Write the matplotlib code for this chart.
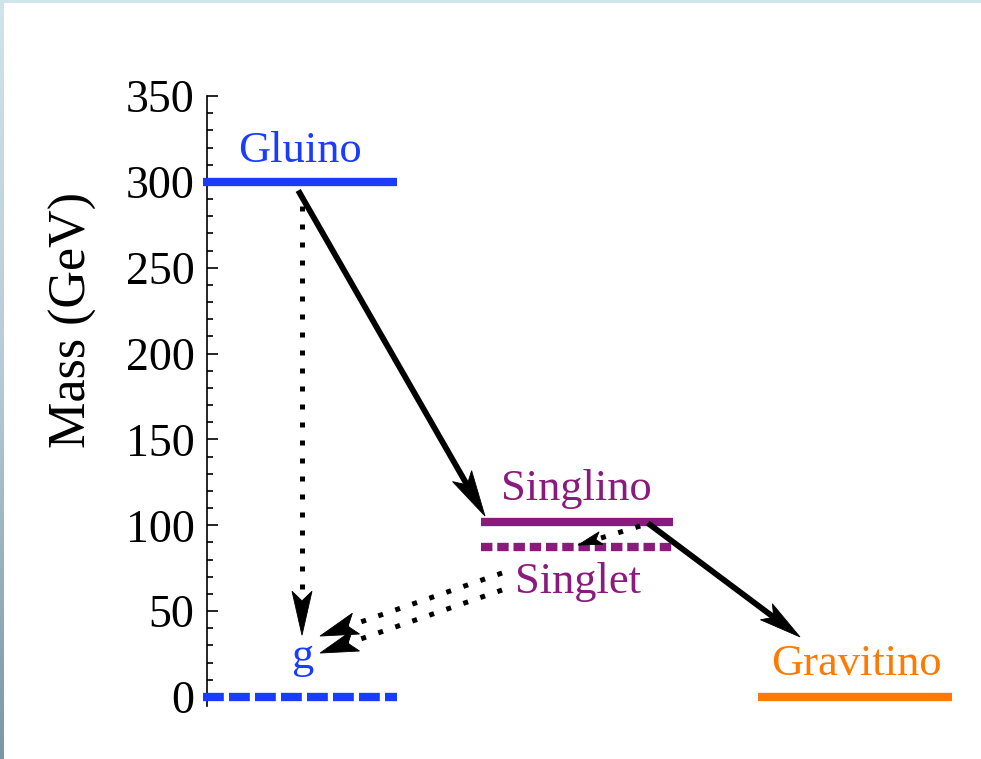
import numpy as np
import matplotlib
matplotlib.use("Agg")
import matplotlib.pyplot as plt
from matplotlib.patches import Polygon, Rectangle
from matplotlib.transforms import IdentityTransform
from matplotlib.colors import LinearSegmentedColormap
from matplotlib.ticker import MultipleLocator

plt.rcParams["font.family"] = ["Liberation Serif", "DejaVu Serif"]

# ---- spectrum data --------------------------------------------------------
BLUE = "#1a3cff"
PURPLE = "#8b1a7d"
ORANGE = "#ff7a00"

level_names = ["Gluino", "g", "Singlino", "Singlet", "Gravitino"]
level_mass = [300, 0, 102, 87.5, 0]                 # GeV
level_x0 = [-0.02, -0.02, 1.44, 1.44, 2.9]
level_x1 = [1.0, 1.0, 2.45, 2.45, 3.92]
level_colors = [BLUE, BLUE, PURPLE, PURPLE, ORANGE]
level_dashes = [None, (2.5, 0.62), None, (1.37, 0.58), None]

label_x = [0.49, 0.50, 1.945, 1.955, 3.416]
label_y = [311.6, 16.9, 114.7, 60.6, 12.8]

# decay arrows: tail (x, mass) -> tip (x, mass)
arrow_x0 = [0.48, 0.50, 2.32, 2.28, 1.553, 1.553]
arrow_y0 = [295.0, 286.0, 101.3, 99.6, 72.2, 62.3]
arrow_x1 = [1.463, 0.50, 3.121, 1.953, 0.595, 0.595]
arrow_y1 = [105.4, 36.0, 35.0, 88.5, 35.5, 25.6]
arrow_dotted = [False, True, False, True, True, True]
head_len = [46, 44, 42, 24, 38, 38]       # pixels
head_half = [11, 10, 10, 6.5, 11, 11]     # pixels

mass_ticks = [0, 50, 100, 150, 200, 250, 300, 350]

# ---- figure ---------------------------------------------------------------
W, H = 981, 759
fig = plt.figure(figsize=(W / 100, H / 100), dpi=100)
fig.patch.set_facecolor("white")

x_max = 3.95
ax_left, ax_right = 207, 207 + x_max * 190
ax_bottom, ax_top = 705.6, 96
ax = fig.add_axes([ax_left / W, (H - ax_bottom) / H,
                   (ax_right - ax_left) / W, (ax_bottom - ax_top) / H])
ax.set_xlim(0, x_max)
ax.set_ylim(-5, 350)

for side in ("top", "right", "bottom"):
    ax.spines[side].set_visible(False)
ax.spines["left"].set_linewidth(1.2)
ax.set_xticks([])
ax.set_yticks(mass_ticks)
ax.yaxis.set_minor_locator(MultipleLocator(10))
ax.tick_params(axis="y", which="major", direction="in", length=8, width=1.2,
               labelsize=33, pad=9)
ax.tick_params(axis="y", which="minor", direction="in", length=4.5, width=1.2)

ax.set_ylabel("Mass (GeV)", fontsize=37.5)
ax.yaxis.label.set_rotation_mode("default")
ax.yaxis.label.set_va("center")
ax.yaxis.label.set_ha("center")
ax.yaxis.set_label_coords(-0.1785, 0.6326)

# energy levels
for name, m, x0, x1, c, d in zip(level_names, level_mass, level_x0,
                                 level_x1, level_colors, level_dashes):
    ln, = ax.plot([x0, x1], [m, m], color=c, lw=6.0, clip_on=False,
                  solid_capstyle="butt", dash_capstyle="butt", zorder=3)
    if d is not None:
        ln.set_dashes(d)

for name, x, y, c in zip(level_names, label_x, label_y, level_colors):
    ax.text(x, y, name, color=c, fontsize=32, ha="center", va="baseline")

# arrows
for x0, y0, x1, y1, dotted, L, hw in zip(arrow_x0, arrow_y0, arrow_x1,
                                         arrow_y1, arrow_dotted, head_len,
                                         head_half):
    p0 = ax.transData.transform((x0, y0))
    p1 = ax.transData.transform((x1, y1))
    u = (p1 - p0) / np.hypot(*(p1 - p0))
    n = np.array([-u[1], u[0]])
    notch = p1 - 0.78 * L * u
    head = np.array([p1, p1 - L * u + hw * n, notch, p1 - L * u - hw * n])
    ax.add_patch(Polygon(head, closed=True, transform=IdentityTransform(),
                         facecolor="black", edgecolor="black", lw=0.6,
                         clip_on=False, zorder=5))
    shaft_end = ax.transData.inverted().transform(notch + 2 * u)
    if dotted:
        ax.plot([x0, shaft_end[0]], [y0, shaft_end[1]], color="black",
                lw=3.6, linestyle=(0, (1.0, 2.6)), dash_capstyle="butt",
                clip_on=False, zorder=4)
    else:
        ax.plot([x0, shaft_end[0]], [y0, shaft_end[1]], color="black",
                lw=4.2, solid_capstyle="butt", clip_on=False, zorder=4)

# slide frame: light strip on top, shaded strip on the left
fig.add_artist(Rectangle((0, 1 - 3 / H), 1, 3 / H, transform=fig.transFigure,
                         facecolor="#cfe4eb", edgecolor="none", zorder=10))
gax = fig.add_axes([0, 0, 4 / W, 1])
grad = np.linspace(0, 1, 256).reshape(-1, 1)
cmap = LinearSegmentedColormap.from_list("frame", ["#cfe4eb", "#b4ccd6", "#7b97a4"])
gax.imshow(grad, aspect="auto", cmap=cmap, extent=(0, 1, 1, 0))
gax.set_xlim(0, 1)
gax.set_ylim(1, 0)
gax.axis("off")

fig.savefig("out.png", dpi=100, facecolor="white")
